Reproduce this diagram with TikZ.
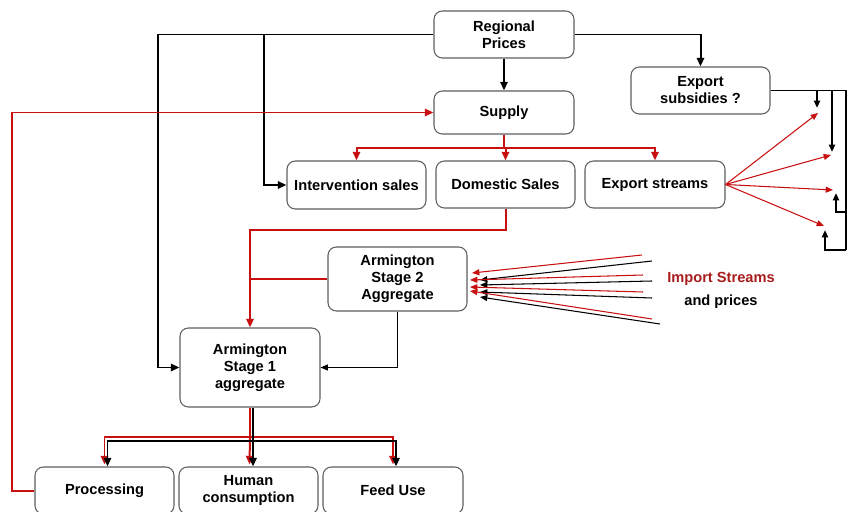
\documentclass[tikz,border=0pt]{standalone}
\usepackage{fontspec}
\setmainfont{Liberation Sans}
\usetikzlibrary{arrows.meta}
\definecolor{rd}{RGB}{200,16,16}
\definecolor{imp}{RGB}{168,28,28}
\definecolor{bx}{RGB}{95,95,95}
\begin{document}
\begin{tikzpicture}[x=0.03cm,y=-0.03cm,
 box/.style={draw=bx,line width=0.9pt,rounded corners=0.25cm,fill=white,align=center,inner sep=0pt,
   font=\fontsize{12.5}{14.5}\selectfont\bfseries},
 lbl/.style={align=center,inner sep=0pt,font=\fontsize{12.5}{14.5}\selectfont\bfseries},
 blk/.style={black,line width=1.7pt},
 redl/.style={rd,line width=1.7pt},
 thinblk/.style={black,line width=0.9pt},
 thinred/.style={rd,line width=0.9pt},
 tip/.style={-{Triangle[length=0.26cm,width=0.22cm]}},
 stip/.style={-{Triangle[length=0.22cm,width=0.18cm]}},
]
\useasboundingbox (0,0) rectangle (847,512);

% nodes
\node[box,minimum width=4.2cm,minimum height=1.41cm] (rp) at (504,34.5) {Regional\\Prices};
\node[box,minimum width=4.2cm,minimum height=1.29cm] (sup) at (504,112.5) {Supply};
\node[box,minimum width=4.17cm,minimum height=1.41cm] (es) at (700.5,90.5) {Export\\subsidies ?};
\node[box,minimum width=4.17cm,minimum height=1.44cm] (is) at (356.5,185) {Intervention sales};
\node[box,minimum width=4.17cm,minimum height=1.41cm] (ds) at (505.5,184.5) {Domestic Sales};
\node[box,minimum width=4.2cm,minimum height=1.41cm] (xs) at (655,184.5) {Export streams};
\node[box,minimum width=4.17cm,minimum height=1.92cm] (a2) at (397.5,279) {Armington\\Stage 2\\Aggregate};
\node[box,minimum width=4.2cm,minimum height=2.37cm] (a1) at (250,367.5) {Armington\\Stage 1\\aggregate};
\node[box,minimum width=4.17cm,minimum height=1.41cm] (pr) at (104.5,490.5) {Processing};
\node[box,minimum width=4.17cm,minimum height=1.41cm] (hc) at (248.5,490.5) {Human\\consumption};
\node[box,minimum width=4.2cm,minimum height=1.41cm] (fu) at (393,490.5) {Feed Use};
\node[lbl,text=imp] (imps) at (721,279) {Import Streams};
\node[lbl] (andp) at (721,302) {and prices};

% coordinates
\coordinate (jl) at (158,34.5);
\coordinate (ji) at (264,34.5);
\coordinate (fb) at (12,490.5);
\coordinate (sb) at (504,148);
\coordinate (db) at (505.5,230);
\coordinate (rb) at (250,437);
\coordinate (bb) at (253,441);
\coordinate (er) at (846,90.5);
\coordinate (e1) at (817,90.5);
\coordinate (e2) at (832,90.5);
\coordinate (eb1) at (846,212);
\coordinate (eb2) at (846,250);
\coordinate (t1) at (818,113);
\coordinate (t2) at (831,155);
\coordinate (t3) at (833,190);
\coordinate (t4) at (824,226);

% black from regional prices
\draw[blk,tip] (rp.west) -- (jl) |- (a1.west);
\draw[blk,tip] (ji) |- (is.west);
\draw[blk,tip] (rp.east) -| (es.north);
\draw[blk,tip] (rp.south) -- (sup.north);

% red feedback from processing
\draw[redl,tip] (pr.west) -- (fb) |- (sup.west);

% supply to sales
\draw[redl] (sup.south) -- (sb);
\draw[redl,tip] (sb) -| (is.north);
\draw[redl,tip] (sb) -| (xs.north);
\draw[redl,tip] (sb) -| (ds.north);

% domestic sales to armington 1
\draw[redl,tip] (ds.south) -- (db) -| (a1.north);
\draw[redl] (a2.west) -- (a2.west -| a1.north);

% armington 2 to armington 1
\draw[thinblk,stip] (a2.south) |- (a1.east);

% export streams fan
\foreach \t in {t1,t2,t3,t4}{\draw[thinred,stip] (xs.east) -- (\t);}

% export subsidies
\draw[blk] (es.east) -- (er) -- (eb2);
\draw[blk,stip] (e1) -- (817,108);
\draw[blk,stip] (e2) -- (832,152);
\draw[blk,stip] (eb1) -- (836,212) -- (836,193);
\draw[blk,stip] (eb2) -- (825,250) -- (825,230);

% import streams
\coordinate (r1) at (642,255); \coordinate (k1) at (652,261);
\coordinate (r2) at (643,275); \coordinate (k2) at (652,281);
\coordinate (r3) at (643,292); \coordinate (k3) at (652,298);
\coordinate (r4) at (652,319); \coordinate (k4) at (660,324);
\draw[thinred,stip] (r1) -- (472,273);
\draw[thinblk,stip] (k1) -- (480,280);
\draw[thinred,stip] (r2) -- (470,280);
\draw[thinblk,stip] (k2) -- (480,285);
\draw[thinred,stip] (r3) -- (470,287);
\draw[thinblk,stip] (k3) -- (480,292);
\draw[thinred,stip] (r4) -- (470,291);
\draw[thinblk,stip] (k4) -- (480,297);

% armington 1 to uses
\draw[redl] (a1.south) -- (rb);
\draw[redl,tip] (rb) -| ([yshift=0.06cm]pr.north);
\draw[redl,tip] (rb) -| ([yshift=0.06cm]fu.north);
\draw[redl,tip] (rb) -- ([yshift=0.06cm,xshift=0.03cm]hc.north);
\draw[blk] ([xshift=0.09cm]a1.south) -- (bb);
\draw[blk,tip] (bb) -| ([xshift=0.09cm]pr.north);
\draw[blk,tip] (bb) -| ([xshift=0.09cm]fu.north);
\draw[blk,tip] (bb) -- ([xshift=0.135cm]hc.north);
\end{tikzpicture}
\end{document}
